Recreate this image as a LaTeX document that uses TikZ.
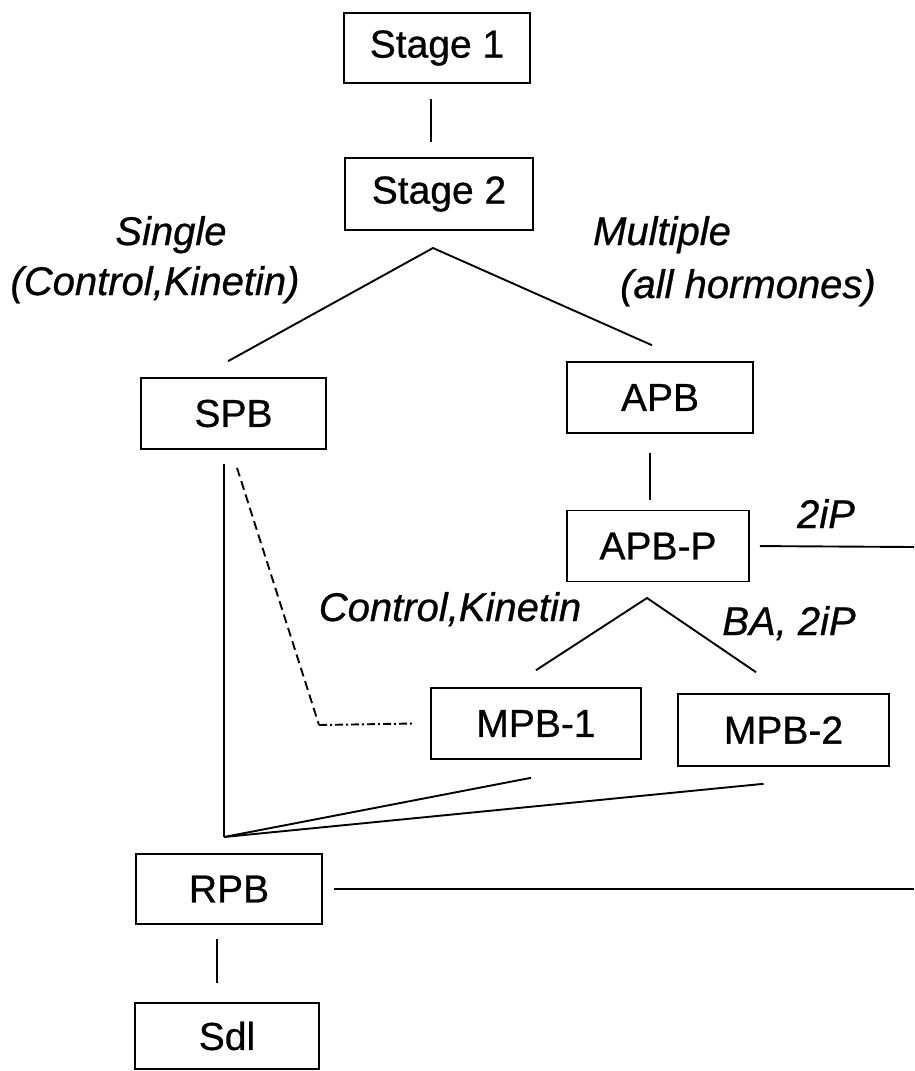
\documentclass[tikz,border=0pt]{standalone}
\usepackage{fontspec}
\setmainfont{Liberation Sans}[UprightFeatures={FakeBold=0.7},ItalicFeatures={FakeBold=0.7}]
\begin{document}
\begin{tikzpicture}[x=1pt,y=-1pt,
  box/.style={draw,line width=1.6pt,inner sep=0pt,minimum height=71pt,font=\fontsize{39}{44}\selectfont},
  lab/.style={anchor=base,inner sep=0pt,font=\fontsize{40}{46}\selectfont\itshape},
  link/.style={line width=1.9pt}]
  \useasboundingbox (0,0) rectangle (914,1071);

  \node[box,minimum width=186pt,minimum height=70pt] (s1) at (437,48) {Stage 1};
  \node[box,minimum width=188pt,minimum height=72pt] (s2) at (439,194) {Stage 2};
  \node[box,minimum width=185pt] (spb) at (233.5,413.5) {SPB};
  \node[box,minimum width=186pt] (apb) at (660,397.5) {APB};
  \node[box,minimum width=182pt] (apbp) at (658,546) {APB-P};
  \node[box,minimum width=210pt] (mpb1) at (536,723.5) {MPB-1};
  \node[box,minimum width=211pt,minimum height=72pt] (mpb2) at (783.5,730) {MPB-2};
  \node[box,minimum width=186pt,minimum height=70pt] (rpb) at (229,889) {RPB};
  \node[box,minimum width=184pt,minimum height=66pt] (sdl) at (227,1036) {Sdl};

  \coordinate (fork1) at (433,248);
  \coordinate (fork2) at (647,598);
  \coordinate (join) at (224,837);
  \coordinate (bend) at (319,725);
  \coordinate (rimA) at (914,547);
  \coordinate (rimB) at (914,889);

  \draw[link,shorten <=15pt,shorten >=15pt] ([xshift=-6pt]s1.south) -- ([xshift=-8pt]s2.north);
  \draw[link] ([xshift=-5.5pt,yshift=16pt]spb.north) -- (fork1) -- ([xshift=-8pt,yshift=16pt]apb.north);
  \draw[link,shorten <=19pt,shorten >=10pt] ([xshift=-10pt]apb.south) -- ([xshift=-8pt]apbp.north);
  \draw[link,shorten <=10pt] (apbp.east) -- (rimA);
  \draw[link] ([yshift=17pt]mpb1.north) -- (fork2) -- ([xshift=-27.5pt,yshift=21pt]mpb2.north);
  \draw[link,shorten <=14pt] ([xshift=-9.5pt]spb.south) -- (join);
  \draw[link] (join) -- ([xshift=-5pt,yshift=-18pt]mpb1.south);
  \draw[link] (join) -- ([xshift=-20pt,yshift=-17pt]mpb2.south);
  \draw[link,dash pattern=on 9pt off 5pt] ([xshift=3.5pt,yshift=-18pt]spb.south) -- (bend);
  \draw[link,dash pattern=on 8pt off 3pt on 2pt off 3pt] (bend) -- ([xshift=-16pt]mpb1.west);
  \draw[link,shorten <=11pt] (rpb.east) -- (rimB);
  \draw[link,shorten <=14pt,shorten >=19pt] ([xshift=-12pt]rpb.south) -- ([xshift=-10pt]sdl.north);

  \node[lab] (single) at (171,245) {Single};
  \node[lab] (singlewhy) at (155,295) {(Control,Kinetin)};
  \node[lab] (multi) at (662,245) {Multiple};
  \node[lab] (multiwhy) at (748,298) {(all hormones)};
  \node[lab] (ck) at (450,621) {Control,Kinetin};
  \node[lab] (ba) at (789,635) {BA, 2iP};
  \node[lab] (twoip) at (826,528) {2iP};
\end{tikzpicture}
\end{document}
